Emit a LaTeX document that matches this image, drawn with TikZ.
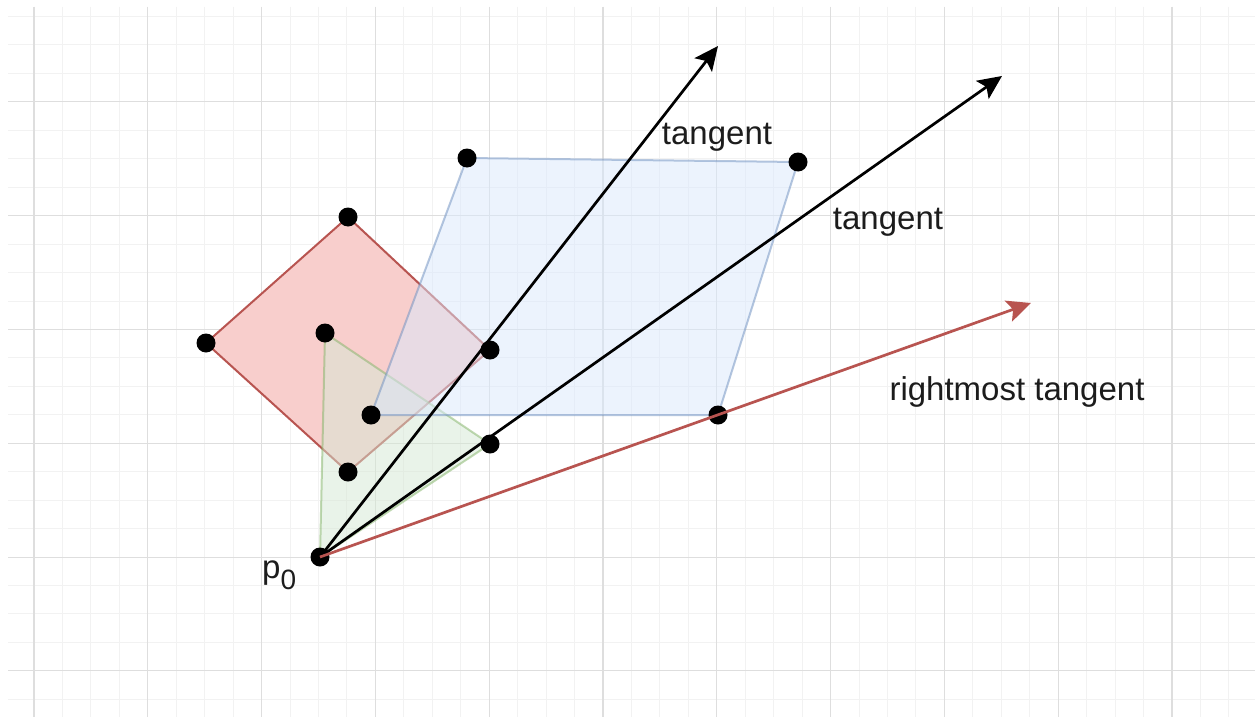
\documentclass[tikz,border=0pt]{standalone}
\usepackage{fontspec}
\setmainfont{Liberation Sans}
\usetikzlibrary{arrows.meta}
\definecolor{redstroke}{HTML}{B85450}
\definecolor{redfill}{HTML}{F8CECC}
\definecolor{bluestroke}{HTML}{6C8EBF}
\definecolor{bluefill}{HTML}{DAE8FC}
\definecolor{greenstroke}{HTML}{82B366}
\definecolor{greenfill}{HTML}{D5E8D4}
\definecolor{minorgridc}{RGB}{242,242,242}
\definecolor{majorgridc}{RGB}{222,222,222}
\definecolor{textc}{RGB}{28,28,28}
\begin{document}
\begin{tikzpicture}[x=1pt,y=-1pt,
  minorgrid/.style={draw=minorgridc,line width=1pt},
  majorgrid/.style={draw=majorgridc,line width=1.1pt},
  redshape/.style={draw=redstroke,fill=redfill,line width=2pt,line join=round},
  greenshape/.style={draw=greenstroke,fill=greenfill,line width=2pt,opacity=0.5,line join=round},
  blueshape/.style={draw=bluestroke,fill=bluefill,line width=2pt,opacity=0.5,line join=round},
  dot/.style={circle,fill=black,inner sep=0pt,minimum size=19pt},
  blackarrow/.style={draw=black,line width=2.7pt,-{Stealth[length=24pt,width=22pt,inset=5pt]}},
  redarrow/.style={draw=redstroke,line width=2.7pt,-{Stealth[length=24pt,width=22pt,inset=5pt]}},
  lbl/.style={text=textc,font=\fontsize{33}{40}\selectfont,inner sep=0pt}]
\useasboundingbox (0,0) rectangle (1255,717);
\fill[white] (0,0) rectangle (1255,717);
% grid
\foreach \k in {0,...,24} \draw[minorgrid] (8,{16.5+28.45*\k}) -- (1255,{16.5+28.45*\k});
\foreach \k in {0,...,42} \draw[minorgrid] ({34+28.45*\k},7) -- ({34+28.45*\k},717);
\foreach \k in {0,...,5} \draw[majorgrid] (8,{101.85+113.8*\k}) -- (1255,{101.85+113.8*\k});
\foreach \k in {0,...,10} \draw[majorgrid] ({34+113.8*\k},7) -- ({34+113.8*\k},717);
% vertices
\coordinate (rt) at (348,217);
\coordinate (rr) at (490,350);
\coordinate (rb) at (348,472);
\coordinate (rl) at (206,343);
\coordinate (gt) at (325,333);
\coordinate (gr) at (490,444);
\coordinate (p) at (320,557);
\coordinate (btl) at (467,158);
\coordinate (btr) at (798,162);
\coordinate (bbr) at (718,415);
\coordinate (bbl) at (371,415);
\coordinate (t1) at (718,46);
\coordinate (t2) at (1002,76);
\coordinate (t3) at (1031,303);
% shapes
\draw[redshape] (rt) -- (rr) -- (rb) -- (rl) -- cycle;
\draw[greenshape] (gt) -- (gr) -- (p) -- cycle;
\draw[blueshape] (btl) -- (btr) -- (bbr) -- (bbl) -- cycle;
% dots
\node[dot] (nrt) at (rt) {};
\node[dot] (nrr) at (rr) {};
\node[dot] (nrb) at (rb) {};
\node[dot] (nrl) at (rl) {};
\node[dot] (ngt) at (gt) {};
\node[dot] (ngr) at (gr) {};
\node[dot] (p0) at (p) {};
\node[dot] (nbtl) at (btl) {};
\node[dot] (nbtr) at (btr) {};
\node[dot] (nbbr) at (bbr) {};
\node[dot] (nbbl) at (bbl) {};
% arrows
\draw[blackarrow] (p0.center) -- (t1);
\draw[blackarrow] (p0.center) -- (t2);
\draw[redarrow] (p0.center) -- (t3);
% labels
\node[lbl,anchor=base] (lt1) at (717,144) {tangent};
\node[lbl,anchor=base] (lt2) at (888,229) {tangent};
\node[lbl,anchor=base] (lt3) at (1017,400) {rightmost tangent};
\node[lbl,anchor=base west] (lp0) at (262,578) {p\raisebox{-11pt}{\fontsize{28}{30}\selectfont 0}};
\end{tikzpicture}
\end{document}
